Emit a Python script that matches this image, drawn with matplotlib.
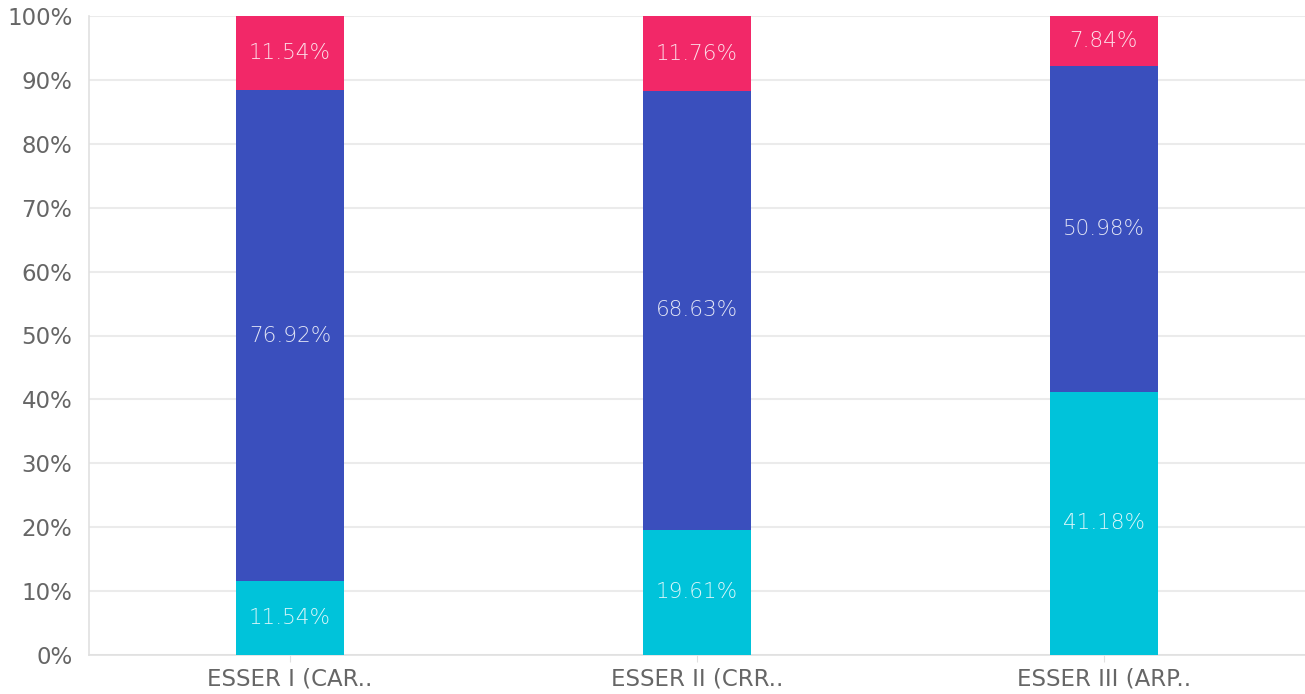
import matplotlib
matplotlib.use("Agg")
import matplotlib.pyplot as plt
import numpy as np

categories = ["ESSER I (CAR..", "ESSER II (CRR..", "ESSER III (ARP.."]
bottom_vals = [11.54, 19.61, 41.18]
middle_vals = [76.92, 68.63, 50.98]
top_vals = [11.54, 11.76, 7.84]
yticks = [0, 10, 20, 30, 40, 50, 60, 70, 80, 90, 100]

colors = ["#00C3DA", "#3A4FBD", "#F22868"]

fig = plt.figure(figsize=(13.05, 6.94), dpi=100)
ax = fig.add_axes([89/1305, 1 - 655/694, (1305-89)/1305, (655-16)/694])

x = np.arange(len(categories))
w = 0.265
series = [bottom_vals, middle_vals, top_vals]
base = np.zeros(len(categories))
for vals, c in zip(series, colors):
    vals = np.array(vals)
    ax.bar(x, vals, w, bottom=base, color=c, zorder=3)
    for xi, b, v in zip(x, base, vals):
        ax.text(xi, b + v / 2, f"{v:.2f}%", ha="center", va="center",
                color="white", alpha=0.85, fontsize=15.5, fontweight="light", zorder=4)
    base = base + vals

ax.set_xlim(-0.494, 2.494)
ax.set_ylim(0, 100)
ax.set_yticks(yticks)
ax.set_yticklabels([f"{t}%" for t in yticks])
ax.set_xticks(x)
ax.set_xticklabels(categories)
ax.yaxis.grid(True, color="#EBEBEB", linewidth=1.5, zorder=0)
ax.set_axisbelow(True)
for s in ["top", "right"]:
    ax.spines[s].set_visible(False)
ax.spines["left"].set_color("#E0E0E0")
ax.spines["bottom"].set_color("#E0E0E0")
ax.spines["left"].set_linewidth(1.2)
ax.spines["bottom"].set_linewidth(1.2)
ax.tick_params(axis="y", length=0, labelsize=16.5, labelcolor="#666666", pad=12)
ax.tick_params(axis="x", length=5, color="#E0E0E0", labelsize=16.5, labelcolor="#666666", pad=4)

fig.savefig("out.png", dpi=100)
